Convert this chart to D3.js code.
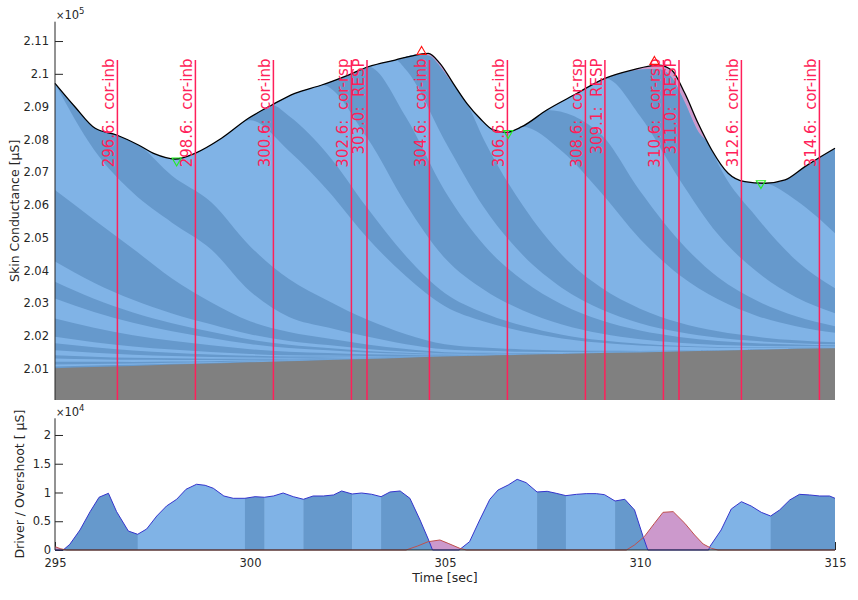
<!DOCTYPE html>
<html>
<head>
<meta charset="utf-8">
<script src="https://cdn.jsdelivr.net/npm/d3@7/dist/d3.min.js"></script>
<style>
  body { margin: 0; background: #fff; }
  svg { display: block; }
  text { font-family: "DejaVu Sans", sans-serif; }
</style>
</head>
<body>
<script>
"use strict";

// measured skin conductance (black line), in µS
const scTime = [295.00, 295.51, 296.03, 296.58, 297.14, 297.56, 298.08, 298.59, 299.27, 299.96,
  300.56, 301.15, 301.84, 302.52, 303.03, 303.72, 304.36, 304.57, 304.87, 305.21,
  305.56, 305.90, 306.24, 306.58, 306.97, 307.61, 308.33, 309.10, 309.79, 310.47,
  310.81, 311.15, 311.49, 311.84, 312.26, 312.69, 313.21, 313.72, 314.23, 314.57, 315.00];
const scValue = [209710, 208997, 208338, 208134, 207829, 207555, 207402, 207576, 208034, 208643,
  209049, 209405, 209659, 209963, 210216, 210421, 210595, 210625, 210320, 209710,
  209101, 208637, 208287, 208216, 208387, 208896, 209369, 209863, 210116, 210268,
  210116, 209405, 208491, 207677, 206966, 206710, 206662, 206762, 207168, 207424, 207729];

// where the fitted sum stays under the data (pink overshoot up top)
const fitWindows = [[304.40, 305.30], [309.70, 311.76]];
const fitTime = [304.40, 304.60, 304.87, 305.10, 305.30, 309.70, 310.10, 310.47, 310.81, 311.15, 311.49, 311.76];
const fitValue = [210590, 210550, 210230, 209850, 209555, 210070, 210140, 210150, 209900, 209130, 208250, 207860];

// tonic level and phasic responses, one sample per second
const sampleTimes = [295, 296, 297, 298, 299, 300, 301, 302, 303, 304, 305,
  306, 307, 308, 309, 310, 311, 312, 313, 314, 315];
const tonicValue = [201020, 201060, 201090, 201130, 201160, 201200, 201230, 201270, 201300, 201340, 201380,
  201400, 201430, 201450, 201480, 201500, 201530, 201550, 201580, 201610, 201630];

// responses to impulses from before the window, oldest first
const earlyResponses = [
  [52, 41, 32, 25, 19, 14, 10, 7, 5, 3, 1, 1, 1, 0, 0, 0, 0, 0, 0, 0, 0],
  [61, 48, 38, 29, 23, 16, 12, 9, 6, 3, 2, 1, 1, 0, 0, 0, 0, 0, 0, 0, 0],
  [82, 65, 51, 39, 30, 22, 16, 11, 8, 5, 2, 2, 1, 1, 0, 0, 0, 0, 0, 0, 0],
  [104, 82, 64, 50, 38, 27, 20, 15, 10, 6, 3, 2, 1, 1, 1, 0, 0, 0, 0, 0, 0],
  [98, 77, 61, 47, 36, 26, 19, 14, 9, 6, 3, 2, 1, 1, 0, 0, 0, 0, 0, 0, 0],
  [152, 120, 94, 73, 56, 40, 29, 21, 14, 9, 4, 3, 2, 1, 1, 0, 0, 0, 0, 0, 0],
  [210, 166, 130, 101, 78, 55, 40, 29, 20, 12, 6, 4, 3, 2, 1, 1, 0, 0, 0, 0, 0],
  [198, 156, 123, 95, 73, 52, 38, 28, 19, 11, 6, 4, 2, 2, 1, 1, 0, 0, 0, 0, 0],
  [558, 441, 346, 268, 206, 147, 106, 78, 52, 32, 16, 11, 7, 4, 3, 2, 1, 1, 0, 0, 0],
  [610, 482, 378, 293, 226, 161, 116, 85, 57, 35, 17, 12, 7, 5, 3, 2, 1, 1, 0, 0, 0],
  [509, 402, 316, 244, 188, 134, 97, 71, 48, 29, 14, 10, 6, 4, 3, 2, 1, 1, 0, 0, 0],
  [620, 490, 384, 298, 229, 164, 118, 87, 58, 35, 17, 12, 7, 5, 3, 2, 1, 1, 0, 0, 0],
  [2180, 1920, 1555, 1067, 671, 396, 274, 198, 137, 76, 37, 24, 15, 11, 6, 5, 3, 2, 2, 1, 1],
  [3262, 2134, 1707, 1700, 1616, 915, 457, 335, 244, 152, 91, 61, 40, 27, 18, 12, 8, 5, 4, 2, 2]
];

// responses to the impulses inside the window, with their onsets
const scrOnset = [295.4, 297.5, 299.85, 300.6, 302.15, 303.15, 303.75, 305.6, 307.45, 308.3, 309.5, 311.85, 313.45];
const scrResponses = [
  [0, 671, 1525, 1433, 1440, 1372, 1159, 823, 518, 305, 152, 101, 67, 46, 30, 20, 13, 9, 6, 4, 3],
  [0, 0, 0, 537, 1768, 3842, 3903, 3354, 2500, 1768, 1159, 793, 549, 366, 244, 168, 113, 76, 52, 34, 24],
  [0, 0, 0, 0, 0, 91, 1067, 1098, 915, 610, 396, 262, 174, 116, 76, 52, 34, 23, 15, 10, 7],
  [0, 0, 0, 0, 0, 0, 610, 2195, 2134, 1585, 1067, 707, 470, 314, 207, 137, 91, 61, 41, 27, 18],
  [0, 0, 0, 0, 0, 0, 0, 0, 2134, 2653, 2043, 1363, 909, 604, 402, 265, 177, 119, 79, 52, 35],
  [0, 0, 0, 0, 0, 0, 0, 0, 0, 1450, 1530, 1150, 770, 510, 340, 226, 150, 100, 67, 44, 30],
  [0, 0, 0, 0, 0, 0, 0, 0, 0, 410, 2130, 2060, 1510, 1000, 660, 440, 290, 195, 130, 85, 58],
  [0, 0, 0, 0, 0, 0, 0, 0, 0, 0, 0, 560, 2500, 3170, 2900, 2130, 1460, 980, 640, 430, 290],
  [0, 0, 0, 0, 0, 0, 0, 0, 0, 0, 0, 0, 0, 1555, 1770, 1460, 1040, 670, 460, 305, 200],
  [0, 0, 0, 0, 0, 0, 0, 0, 0, 0, 0, 0, 0, 0, 1680, 2290, 1890, 1310, 885, 580, 400],
  [0, 0, 0, 0, 0, 0, 0, 0, 0, 0, 0, 0, 0, 0, 0, 1400, 2740, 2160, 1650, 1130, 760],
  [0, 0, 0, 0, 0, 0, 0, 0, 0, 0, 0, 0, 0, 0, 0, 0, 0, 150, 1080, 1830, 1680],
  [0, 0, 0, 0, 0, 0, 0, 0, 0, 0, 0, 0, 0, 0, 0, 0, 0, 0, 0, 850, 2590]
];

// event markers
const eventTime = [296.6, 298.6, 300.6, 302.6, 303.0, 304.6, 306.6, 308.6, 309.1, 310.6, 311.0, 312.6, 314.6];
const eventLabel = ["cor-inb", "cor-inb", "cor-inb", "cor-rsp", "RESP", "cor-inb", "cor-inb",
  "cor-rsp", "RESP", "cor-rsp", "RESP", "cor-inb", "cor-inb"];
const eventTop = 210420;

// detected minima / maxima
const minTime = [298.12, 306.62, 313.10];
const minValue = [207350, 208190, 206660];
const maxTime = [304.40, 310.37];
const maxValue = [210675, 210370];

// driver and overshoot (lower panel)
const driverTime = [295.00, 295.21, 295.38, 295.64, 295.90, 296.13, 296.37, 296.58, 296.88, 297.12,
  297.35, 297.61, 297.86, 298.12, 298.36, 298.63, 298.85, 299.06, 299.33, 299.57,
  299.87, 300.13, 300.37, 300.60, 300.85, 301.11, 301.37, 301.62, 301.88, 302.14,
  302.35, 302.62, 302.86, 303.12, 303.36, 303.59, 303.85, 304.10, 304.36, 304.57,
  304.68, 305.36, 305.63, 305.89, 306.15, 306.36, 306.62, 306.85, 307.08, 307.36,
  307.62, 307.85, 308.10, 308.37, 308.62, 308.88, 309.09, 309.36, 309.61, 309.86,
  310.08, 310.20, 311.76, 311.79, 312.08, 312.34, 312.60, 312.85, 313.11, 313.35,
  313.58, 313.84, 314.09, 314.35, 314.61, 314.86, 315.00];
const driverValue = [0, 0, 990, 3480, 6660, 9170, 9860, 6660, 3300, 2730,
  3650, 5910, 7650, 8820, 10560, 11430, 11250, 10730, 9390, 8990,
  8990, 9270, 9170, 9390, 9910, 9270, 8820, 9390, 9390, 9570,
  10260, 9740, 9910, 9690, 9270, 10090, 10260, 8990, 5220, 1900,
  0, 0, 1450, 5220, 8820, 10430, 11300, 12290, 11710, 10090,
  10200, 9860, 9450, 9680, 9800, 9800, 9620, 8520, 8820, 6960,
  2320, 0, 0, 580, 3480, 7130, 8400, 7650, 6550, 5910,
  6960, 8700, 9680, 9570, 9390, 9390, 8990];
const overshootTime = [295.00, 295.15, 295.30, 304.00, 304.30, 304.57, 304.87, 305.08, 305.38, 305.55,
  309.65, 309.86, 310.11, 310.37, 310.59, 310.85, 311.15, 311.40, 311.62, 311.83, 312.00, 315.00];
const overshootValue = [580, 200, 0, 0, 700, 1450, 1740, 1160, 290, 0,
  0, 870, 2320, 4640, 6550, 6670, 4640, 2610, 1040, 290, 0, 0];
const segmentEdges = [295, 297.12, 299.87, 300.37, 301.37, 302.62, 303.36, 305.0,
  307.36, 308.10, 309.36, 311.0, 313.35, 315];

// ticks
const xTicks = [295, 300, 305, 310, 315];
const yTopTicks = [201000, 202000, 203000, 204000, 205000, 206000, 207000, 208000, 209000, 210000, 211000];
const yTopTickLabels = ["2.01", "2.02", "2.03", "2.04", "2.05", "2.06", "2.07", "2.08", "2.09", "2.1", "2.11"];
const yBotTicks = [0, 5000, 10000, 15000, 20000];
const yBotTickLabels = ["0", "0.5", "1", "1.5", "2"];

const LIGHT = "#80b3e6";
const DARK = "#6699cc";
const PINK = "#cc99cc";
const TONIC = "#808080";
const AXIS = "#262626";
const EVENT = "#ff1f5a";

const svg = d3.select("body").append("svg").attr("width", 858).attr("height", 600);
const defs = svg.append("defs");

const x = d3.scaleLinear().domain([295, 315]).range([55, 835]);
const yTop = d3.scaleLinear().domain([200050, 211590]).range([400, 21.7]);
const yBot = d3.scaleLinear().domain([0, 22900]).range([550, 418.3]);

const topBase = yTop.range()[0];
const botBase = yBot.range()[0];

// ---------- axes (ticks sit under the data) ----------
function styleAxis(g) {
  g.selectAll("text").attr("font-family", "DejaVu Sans, sans-serif").attr("font-size", 11.5).attr("fill", AXIS);
  g.selectAll("line").attr("stroke", AXIS);
  g.select(".domain").remove();
}

svg.append("g").attr("transform", `translate(${x.range()[0]},0)`)
  .call(d3.axisLeft(yTop).tickValues(yTopTicks).tickFormat((d, i) => yTopTickLabels[i])
    .tickSizeInner(-8).tickSizeOuter(0).tickPadding(6))
  .call(styleAxis);

svg.append("g").attr("transform", `translate(${x.range()[0]},0)`)
  .call(d3.axisLeft(yBot).tickValues(yBotTicks).tickFormat((d, i) => yBotTickLabels[i])
    .tickSizeInner(-8).tickSizeOuter(0).tickPadding(4))
  .call(styleAxis);

svg.append("g").attr("transform", `translate(0,${botBase})`)
  .call(d3.axisBottom(x).tickValues(xTicks).tickFormat(d3.format("d"))
    .tickSizeInner(-8).tickSizeOuter(0).tickPadding(9))
  .call(styleAxis);

// ---------- upper panel ----------
const scPoints = scTime.map((t, i) => [t, scValue[i]]);
const inWindow = t => fitWindows.some(([a, b]) => t >= a && t <= b);
const fitPoints = scPoints.filter(p => !inWindow(p[0]))
  .concat(fitTime.map((t, i) => [t, fitValue[i]]))
  .sort((a, b) => a[0] - b[0]);

const comps = earlyResponses.concat(scrResponses);
const onsets = earlyResponses.map(() => null).concat(scrOnset);
const keys = comps.map((c, j) => "c" + j);
const rows = sampleTimes.map((t, i) => {
  const r = {};
  keys.forEach((k, j) => { r[k] = comps[j][i]; });
  return r;
});
const stacked = d3.stack().keys(keys)(rows);

// upper edge of every response band; it runs along the fit until the next band starts
const boundaries = keys.map((k, j) => {
  if (j === keys.length - 1) return fitPoints;
  const onset = onsets[j + 1];
  const head = onset === null ? [] : fitPoints.filter(p => p[0] <= onset);
  const tail = sampleTimes.map((t, i) => [t, tonicValue[i] + stacked[j][i][1]])
    .filter(p => onset === null || p[0] > onset);
  return head.concat(tail);
});

const topArea = d3.area().curve(d3.curveMonotoneX)
  .x(d => x(d[0])).y0(topBase).y1(d => yTop(d[1]));

defs.append("clipPath").attr("id", "under-fit")
  .append("path").attr("d", topArea(fitPoints));

// overshoot: data above the fit
svg.append("path").attr("d", topArea(scPoints)).attr("fill", PINK);

const bands = svg.append("g").attr("clip-path", "url(#under-fit)");
for (let j = boundaries.length - 1; j >= 0; j--) {
  bands.append("path")
    .attr("d", topArea(boundaries[j]))
    .attr("fill", j % 2 === 0 ? DARK : LIGHT);
}
bands.append("path")
  .attr("d", topArea(sampleTimes.map((t, i) => [t, tonicValue[i]])))
  .attr("fill", TONIC);

svg.append("path")
  .attr("d", d3.line().curve(d3.curveMonotoneX).x(d => x(d[0])).y(d => yTop(d[1]))(scPoints))
  .attr("fill", "none").attr("stroke", "#000").attr("stroke-width", 1.3);

// events
svg.append("g").selectAll("line").data(eventTime).join("line")
  .attr("x1", d => x(d)).attr("x2", d => x(d))
  .attr("y1", yTop(eventTop)).attr("y2", topBase)
  .attr("stroke", EVENT).attr("stroke-width", 1.5);

svg.append("g").selectAll("text").data(eventTime).join("text")
  .attr("transform", d => `translate(${x(d) - 3},${yTop(eventTop) - 1.5}) rotate(-90)`)
  .attr("text-anchor", "end")
  .attr("font-family", "Liberation Sans, Arial, sans-serif")
  .attr("font-size", 15)
  .attr("fill", EVENT)
  .style("white-space", "pre")
  .text((d, i) => `${d.toFixed(1)}:  ${eventLabel[i]}`);

// minima / maxima markers
const tri = d3.symbol().type(d3.symbolTriangle).size(36);
svg.append("g").selectAll("path").data(minTime).join("path")
  .attr("d", tri)
  .attr("transform", (d, i) => `translate(${x(d)},${yTop(minValue[i])}) rotate(180)`)
  .attr("fill", "none").attr("stroke", "#22ee22").attr("stroke-width", 1.1);
svg.append("g").selectAll("path").data(maxTime).join("path")
  .attr("d", tri)
  .attr("transform", (d, i) => `translate(${x(d)},${yTop(maxValue[i])})`)
  .attr("fill", "none").attr("stroke", "#ff1010").attr("stroke-width", 1.1);

// ---------- lower panel ----------
const driverPts = driverTime.map((t, i) => [t, driverValue[i]]);
const overPts = overshootTime.map((t, i) => [t, overshootValue[i]]);
const botArea = d3.area().x(d => x(d[0])).y0(botBase).y1(d => yBot(d[1]));
const botLine = d3.line().x(d => x(d[0])).y(d => yBot(d[1]));

svg.append("path").attr("d", botArea(overPts)).attr("fill", PINK);

segmentEdges.slice(0, -1).forEach((s, i) => {
  const e = segmentEdges[i + 1];
  defs.append("clipPath").attr("id", `seg-${i}`)
    .append("rect")
    .attr("x", x(s)).attr("width", x(e) - x(s) + 0.5)
    .attr("y", yBot.range()[1] - 5).attr("height", botBase - yBot.range()[1] + 10);
  svg.append("path")
    .attr("d", botArea(driverPts))
    .attr("fill", i % 2 === 0 ? DARK : LIGHT)
    .attr("clip-path", `url(#seg-${i})`);
});

svg.append("path").attr("d", botLine(driverPts))
  .attr("fill", "none").attr("stroke", "#3535cc").attr("stroke-width", 1);
svg.append("path").attr("d", botLine(overPts))
  .attr("fill", "none").attr("stroke", "#c0504d").attr("stroke-width", 1);

// ---------- spines and labels ----------
const spine = (x1, y1, x2, y2) => svg.append("line")
  .attr("x1", x1).attr("y1", y1).attr("x2", x2).attr("y2", y2)
  .attr("stroke", AXIS).attr("stroke-width", 1);
spine(x.range()[0], yTop.range()[1], x.range()[0], topBase);
spine(x.range()[0], yBot.range()[1], x.range()[0], botBase);
spine(x.range()[0], botBase, x.range()[1], botBase);

function exponent(yBase, power) {
  const t = svg.append("text").attr("x", x.range()[0] + 1).attr("y", yBase)
    .attr("font-size", 11.5).attr("fill", AXIS);
  t.append("tspan").attr("font-size", 10).text("\u00d7");
  t.append("tspan").text("10");
  t.append("tspan").attr("font-size", 8.5).attr("dy", -5).text(power);
}
exponent(19, "5");
exponent(416, "4");

svg.append("text")
  .attr("transform", `translate(19,${(yTop.range()[0] + yTop.range()[1]) / 2}) rotate(-90)`)
  .attr("text-anchor", "middle").attr("font-size", 12.5).attr("fill", AXIS)
  .text("Skin Conductance [\u03bcS]");

svg.append("text")
  .attr("transform", `translate(24,${(yBot.range()[0] + yBot.range()[1]) / 2}) rotate(-90)`)
  .attr("text-anchor", "middle").attr("font-size", 12.5).attr("fill", AXIS)
  .style("white-space", "pre")
  .text("Driver / Overshoot [ \u03bcS]");

svg.append("text")
  .attr("x", (x.range()[0] + x.range()[1]) / 2).attr("y", 582)
  .attr("text-anchor", "middle").attr("font-size", 12.5).attr("fill", AXIS)
  .text("Time [sec]");
</script>
</body>
</html>
